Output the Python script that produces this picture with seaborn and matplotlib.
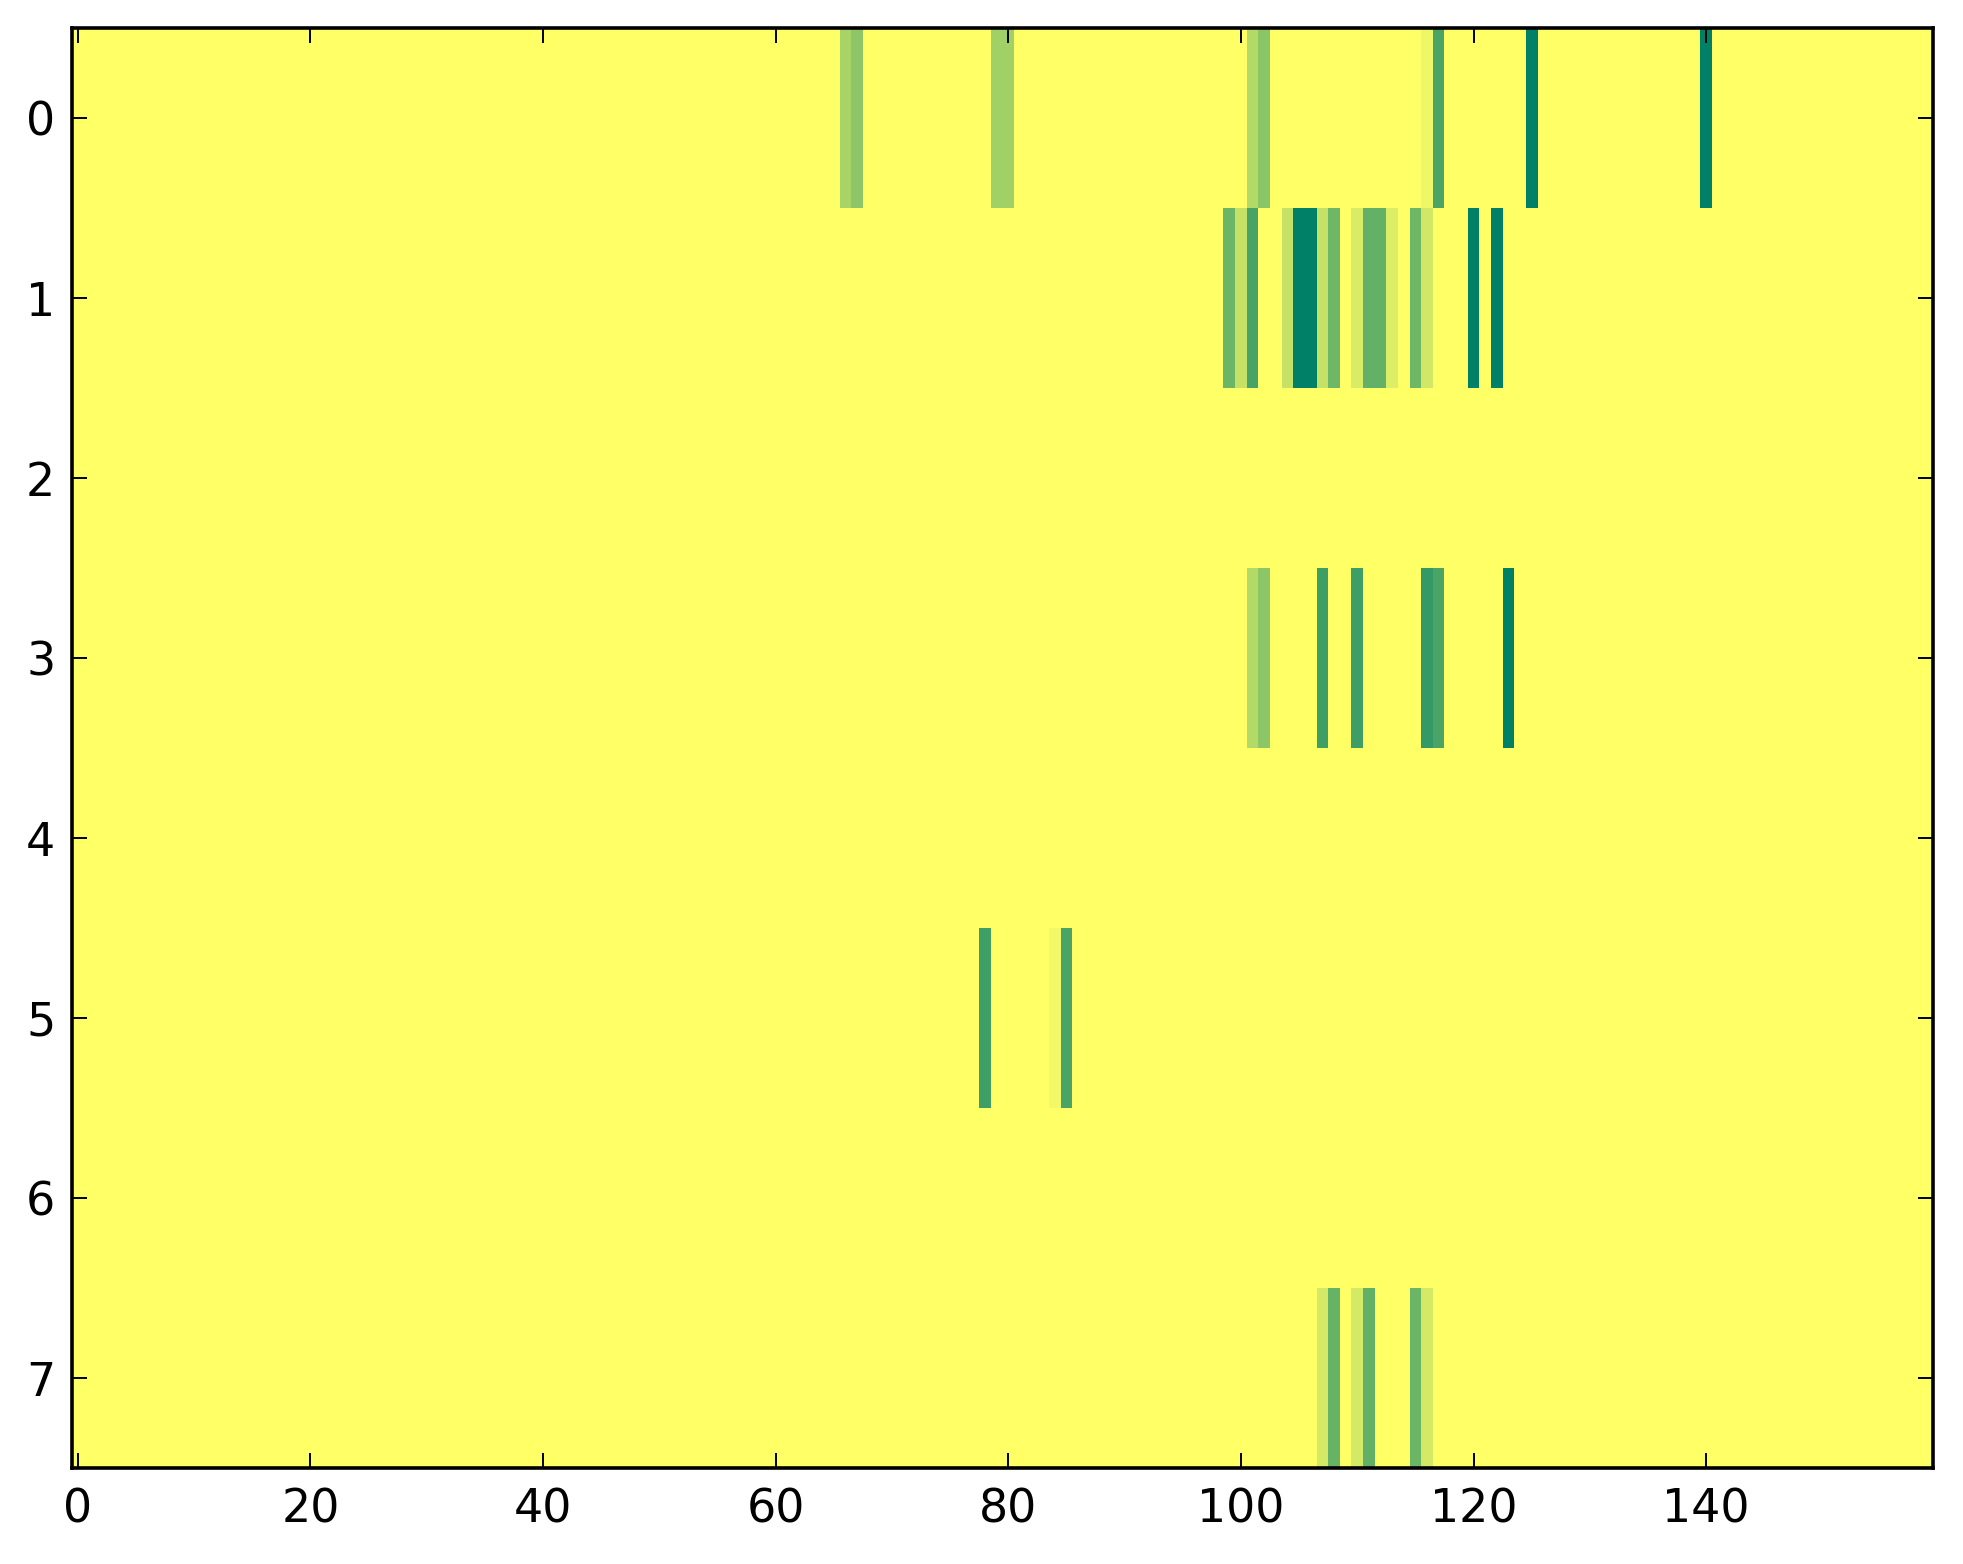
import matplotlib
matplotlib.use("Agg")
import matplotlib.pyplot as plt
import seaborn as sns
import numpy as np

# heatmap size: 8 rows x 160 columns, most cells are zero
n_rows = 8
n_cols = 160

# non-zero cells per row (column index, value on 0..1)
row0_cols = [66, 67, 79, 80, 101, 102, 116, 117, 125, 140]
row0_vals = [0.34, 0.45, 0.37, 0.37, 0.30, 0.46, 0.07, 0.71, 1.0, 1.0]

row1_cols = [99, 100, 101, 104, 105, 106, 107, 108, 110, 111, 112, 113, 115, 116, 120, 122]
row1_vals = [0.58, 0.23, 0.72, 0.23, 1.0, 1.0, 0.23, 0.57, 0.15, 0.61, 0.61, 0.14, 0.57, 0.18, 1.0, 1.0]

row3_cols = [101, 102, 107, 110, 116, 117, 123]
row3_vals = [0.30, 0.45, 0.76, 0.76, 0.80, 0.71, 1.0]

row5_cols = [78, 84, 85]
row5_vals = [0.76, 0.05, 0.71]

row7_cols = [107, 108, 110, 111, 115, 116]
row7_vals = [0.17, 0.60, 0.17, 0.62, 0.58, 0.17]

xtick_vals = [0, 20, 40, 60, 80, 100, 120, 140]
ytick_vals = [0, 1, 2, 3, 4, 5, 6, 7]

data = np.zeros((n_rows, n_cols))
for r, cols, vals in [(0, row0_cols, row0_vals), (1, row1_cols, row1_vals),
                      (3, row3_cols, row3_vals), (5, row5_cols, row5_vals),
                      (7, row7_cols, row7_vals)]:
    data[r, cols] = vals

fig = plt.figure(figsize=(1963 / 200, 1564 / 200), dpi=200)
ax = fig.add_axes([72 / 1963, 1 - 1468 / 1564, (1933 - 72) / 1963, (1468 - 28) / 1564])

sns.heatmap(data, cmap="summer_r", vmin=0, vmax=1, cbar=False, ax=ax,
            xticklabels=False, yticklabels=False)

ax.set_xticks(np.array(xtick_vals) + 0.5)
ax.set_xticklabels([str(v) for v in xtick_vals], rotation=0)
ax.set_yticks(np.array(ytick_vals) + 0.5)
ax.set_yticklabels([str(v) for v in ytick_vals], rotation=0)

for s in ax.spines.values():
    s.set_visible(True)
    s.set_linewidth(1.3)
    s.set_color("black")

ax.tick_params(direction="in", top=True, right=True, length=5.5, width=0.7,
               labelsize=16.5, colors="black")
ax.tick_params(axis="x", pad=7)
ax.tick_params(axis="y", pad=6)

fig.savefig("out.png", dpi=200, facecolor="white")
